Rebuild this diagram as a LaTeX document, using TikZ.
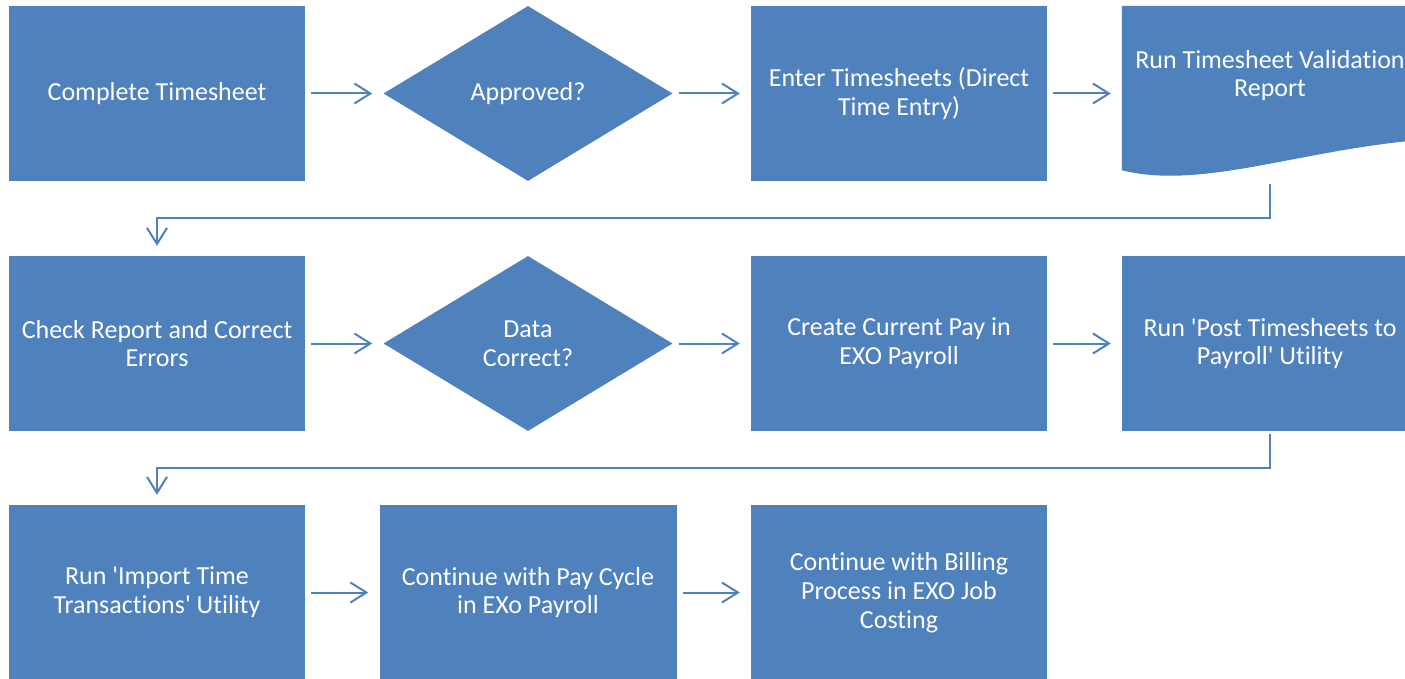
\documentclass[tikz,border=0pt]{standalone}
\usepackage{fontspec}
\newfontfamily\flowfont{Carlito}[Ligatures=NoCommon]
\usetikzlibrary{shapes.geometric,arrows.meta}

\definecolor{flowblue}{HTML}{4F81BD}

\tikzstyle{stepbox} = [rectangle, fill = flowblue, text = white, minimum width = 296pt, minimum height = 175pt, inner sep = 0pt, align = center, font = \flowfont\fontsize{26}{28.8}\selectfont]
\tikzstyle{decision} = [diamond, fill = flowblue, text = white, minimum width = 289pt, minimum height = 175pt, inner sep = 0pt, align = center, font = \flowfont\fontsize{26}{28.8}\selectfont]
\tikzstyle{doctext} = [text = white, align = center, font = \flowfont\fontsize{26}{28.8}\selectfont]
\tikzstyle{flow} = [draw = flowblue, line width = 2pt, -{Straight Barb[length=16pt, width=20pt]}, shorten < = 6pt, shorten > = 11pt]

\begin{document}
\begin{tikzpicture}[node distance = 371pt]
			\useasboundingbox (0,0) rectangle (1405pt,-679pt);
			% first row
			\node[stepbox] (comp) at (157pt,-93.5pt) {Complete Timesheet};
			\node[decision, right of = comp] (appr) {Approved?};
			\node[stepbox, right of = appr] (enter) {Enter Timesheets (Direct\\Time Entry)};
			\node[stepbox, fill = none, right of = enter] (valid) {};
			\fill[flowblue] (valid.north west) -- (valid.north east)
			-- ([yshift=41pt]valid.south east)
			.. controls ([xshift=178pt,yshift=31pt]valid.south west) and ([xshift=78pt,yshift=-9pt]valid.south west) .. ([yshift=11pt]valid.south west)
			-- cycle;
			\node[doctext] (validtext) at ([yshift=18pt]valid.center) {Run Timesheet Validation\\Report};
			% second row
			\node[stepbox, below of = comp, node distance = 250pt] (check) {Check Report and Correct\\Errors};
			\node[decision, right of = check] (data) {Data\\Correct?};
			\node[stepbox, right of = data] (pay) {Create Current Pay in\\EXO Payroll};
			\node[stepbox, right of = pay] (post) {Run 'Post Timesheets to\\Payroll' Utility};
			% third row
			\node[stepbox, below of = check, node distance = 249pt] (import) {Run 'Import Time\\Transactions' Utility};
			\node[stepbox, right of = import, minimum width = 297pt] (cycle) {Continue with Pay Cycle\\in EXo Payroll};
			\node[stepbox, right of = cycle] (bill) {Continue with Billing\\Process in EXO Job\\Costing};
			% connectors
			\path[flow]
			(comp) edge (appr)
			(appr) edge (enter)
			(enter) edge (valid)
			(check) edge (data)
			(data) edge (pay)
			(pay) edge (post)
			(import) edge (cycle)
			(cycle) edge (bill);
			\draw[flow, shorten < = 3pt, shorten > = 10pt] (valid.south) -- ++(0,-37pt) -| (check.north);
			\draw[flow, shorten < = 3pt, shorten > = 10pt] (post.south) -- ++(0,-37pt) -| (import.north);
		\end{tikzpicture}
\end{document}
